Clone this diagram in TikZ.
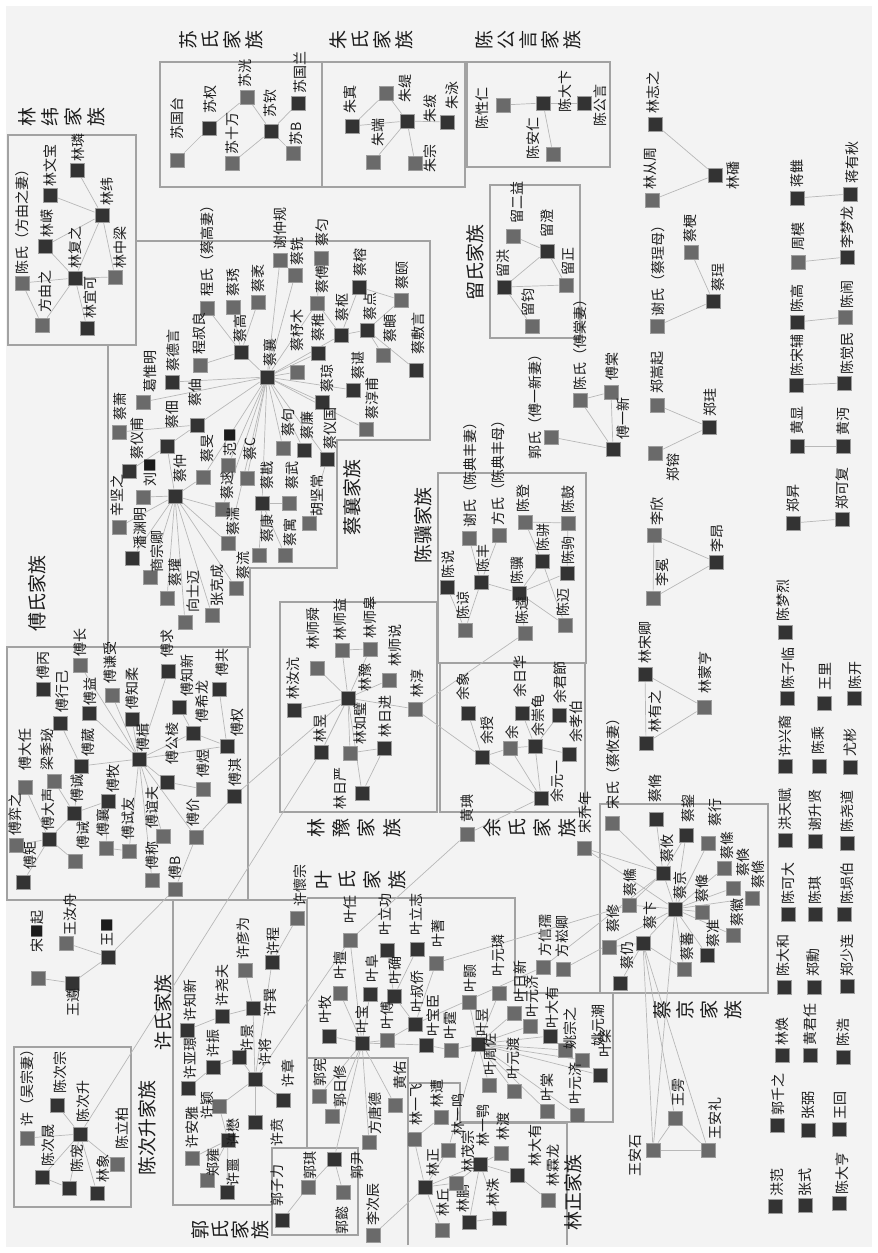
\documentclass[tikz,border=0pt]{standalone}
\usepackage{fontspec}
\setmainfont{Noto Sans CJK SC}
\definecolor{bgc}{HTML}{F3F3F3}
\definecolor{grpc}{HTML}{A2A2A2}
\definecolor{edc}{HTML}{B8B8B8}
\definecolor{dkc}{HTML}{333333}
\definecolor{gyc}{HTML}{6A6A6A}
\definecolor{sqb}{HTML}{9C9C9C}
\definecolor{txt}{HTML}{1C1C1C}
\pgfdeclarelayer{back}\pgfdeclarelayer{edges}
\pgfsetlayers{back,edges,main}
\tikzset{
 sqd/.style={draw=sqb,fill=dkc,line width=0.8pt,minimum size=14pt,inner sep=0pt},
 sqg/.style={draw=sqb,fill=gyc,line width=0.8pt,minimum size=14pt,inner sep=0pt},
 lb/.style={rotate=90,anchor=west,inner sep=0pt,font=\fontsize{14}{14}\selectfont,text=txt},
 bigl/.style={rotate=90,inner sep=0pt,font=\fontsize{19}{19}\selectfont,text=txt},
 ed/.style={draw=edc,line width=0.7pt},
 grp/.style={draw=grpc,line width=2.4pt}
}
\newcommand\Nd[7]{\node[sq#4] (#1) at (#2,#3) {};\node[lb] at (#6,#7) {#5};}
\newcommand\Sp[4]{\foreach \c [count=\i from 0] in {#4} \node[bigl] at (#1+\i*#3,#2) {\c};}
\begin{document}
\begin{tikzpicture}[x=1pt,y=-1pt]
\useasboundingbox (0,0) rectangle (878,1253);
\begin{pgfonlayer}{back}
\fill[white] (0,0) rectangle (878,1253);
\fill[bgc] (6,6) rectangle (872,1247);
\draw[grp] (8,135) rectangle (136,345);
\draw[grp] (160,62) rectangle (322,187);
\draw[grp] (322,62) rectangle (465,187);
\draw[grp] (467,62) rectangle (610,167);
\draw[grp] (490,185) rectangle (580,338);
\draw[grp] (108,345) -- (108,647) -- (250,647) -- (250,568) -- (337,568) -- (337,440) -- (430,440) -- (430,241) -- (136,241);
\draw[grp] (7,647) rectangle (248,900);
\draw[grp] (438,473) rectangle (586,663);
\draw[grp] (440,663) rectangle (585,812);
\draw[grp] (280,602) rectangle (437,812);
\draw[grp] (600,804) rectangle (768,993);
\draw[grp] (14,1047) rectangle (131,1207);
\draw[grp] (173,900) -- (307,900) -- (307,1148);
\draw[grp] (173,900) -- (173,1205) -- (272,1205);
\draw[grp] (307,898) -- (515,898) -- (515,993) -- (613,993) -- (613,1122) -- (460,1122);
\draw[grp] (307,1058) -- (408,1058) -- (408,1083);
\draw[grp] (408,1245) -- (408,1083) -- (460,1083) -- (460,1123) -- (567,1123) -- (567,1245);
\draw[grp] (272,1148) rectangle (358,1235);
\end{pgfonlayer}
% group labels
\Sp{27}{117}{23}{林,纬,家,族}
\Sp{188}{40}{22}{苏,氏,家,族}
\Sp{338}{40}{22}{朱,氏,家,族}
\Sp{484}{40}{22}{陈,公,言,家,族}
\Sp{316}{828}{25.3}{林,豫,家,族}
\Sp{492}{828}{25}{余,氏,家,族}
\Sp{323}{880}{24.6}{叶,氏,家,族}
\Sp{662}{1010}{23.7}{蔡,京,家,族}
\Sp{200}{1230}{20}{郭,氏,家,族}
\node[bigl] at (37,593) {傅氏家族};
\node[bigl] at (352,497) {蔡襄家族};
\node[bigl] at (423,525) {陈骥家族};
\node[bigl] at (475,262) {留氏家族};
\node[bigl] at (163,1012) {许氏家族};
\node[bigl] at (147,1128) {陈次升家族};
\node[bigl] at (573,1192) {林正家族};
% 林纬
\Nd{a1}{22}{283}{g}{陈氏（方由之妻）}{22}{275}
\Nd{a2}{42}{325}{g}{方由之}{45}{313}
\Nd{a3}{87}{328}{d}{林宜可}{90}{319}
\Nd{a4}{75}{278}{d}{林复之}{75}{269}
\Nd{a5}{45}{246}{d}{林嵘}{47}{238}
\Nd{a6}{50}{195}{d}{林文宝}{50}{187}
\Nd{a7}{77}{170}{d}{林璘}{78}{162}
\Nd{a8}{102}{215}{d}{林纬}{107}{206}
\Nd{a9}{115}{277}{g}{林中梁}{120}{269}
% 苏
\Nd{b1}{177}{160}{g}{苏国台}{177}{140}
\Nd{b2}{209}{128}{d}{苏权}{210}{114}
\Nd{b3}{232}{163}{g}{苏十万}{232}{155}
\Nd{b4}{247}{97}{g}{苏洸}{245}{88}
\Nd{b5}{271}{131}{d}{苏钦}{270}{118}
\Nd{b6}{293}{153}{g}{苏B}{296}{146}
\Nd{b7}{298}{103}{d}{苏国兰}{300}{94}
% 朱
\Nd{c1}{352}{126}{d}{朱寘}{350}{114}
\Nd{c2}{386}{93}{g}{朱缇}{405}{103}
\Nd{c3}{407}{121}{d}{朱绂}{430}{123}
\Nd{c4}{447}{122}{d}{朱泳}{452}{110}
\Nd{c5}{373}{162}{g}{朱端}{378}{147}
\Nd{c6}{415}{163}{g}{朱宗}{430}{173}
% 陈公言
\Nd{e1}{503}{105}{g}{陈性仁}{482}{130}
\Nd{e2}{543}{103}{d}{陈大卞}{565}{113}
\Nd{e3}{553}{154}{g}{陈安仁}{533}{160}
\Nd{e4}{584}{103}{d}{陈公言}{600}{127}
% right side
\Nd{f1}{655}{124}{d}{林志之}{653}{114}
\Nd{f2}{652}{200}{g}{林从周}{650}{190}
\Nd{f3}{715}{175}{d}{林磻}{733}{190}
\Nd{f4}{657}{326}{g}{谢氏（蔡珵母）}{658}{317}
\Nd{f5}{691}{252}{g}{蔡梗}{690}{243}
\Nd{f6}{713}{301}{d}{蔡珵}{718}{292}
\Nd{f7}{797}{198}{d}{蒋雔}{797}{188}
\Nd{f8}{850}{194}{d}{蒋有秋}{852}{184}
\Nd{f9}{798}{262}{g}{周模}{798}{251}
\Nd{f10}{847}{257}{d}{李梦龙}{847}{249}
\Nd{f11}{797}{322}{d}{陈高}{797}{313}
\Nd{f12}{845}{317}{g}{陈闹}{847}{309}
\Nd{f13}{796}{385}{d}{陈宋辅}{797}{377}
\Nd{f14}{844}{383}{d}{陈觉民}{847}{375}
\Nd{f15}{797}{446}{d}{黄显}{797}{435}
\Nd{f16}{843}{446}{d}{黄沔}{843}{436}
\Nd{f17}{793}{523}{d}{郑昇}{793}{513}
\Nd{f18}{842}{519}{d}{郑可复}{842}{510}
\Nd{f19}{785}{632}{d}{陈梦烈}{783}{622}
\Nd{f20}{611}{392}{g}{傅棠}{612}{381}
\Nd{f21}{613}{449}{d}{傅一新}{623}{440}
\Nd{f22}{580}{400}{g}{陈氏（傅棠妻）}{580}{391}
\Nd{f23}{551}{437}{g}{郭氏（傅一新妻）}{535}{460}
\Nd{f24}{657}{405}{g}{郑嵩起}{657}{394}
\Nd{f25}{709}{427}{d}{郑珪}{710}{417}
\Nd{f26}{655}{453}{g}{郑镕}{673}{482}
\Nd{f27}{654}{535}{g}{李欣}{657}{526}
\Nd{f28}{716}{562}{d}{李昂}{717}{553}
\Nd{f29}{653}{598}{g}{李冕}{662}{587}
\Nd{f30}{645}{674}{d}{林宋卿}{645}{664}
\Nd{f31}{646}{743}{d}{林有之}{655}{733}
\Nd{f32}{704}{707}{g}{林蒙亨}{705}{694}
\Nd{x1}{787}{698}{d}{陈子临}{788}{690}
\Nd{x2}{824}{703}{d}{王里}{825}{691}
\Nd{x3}{854}{698}{d}{陈开}{855}{690}
\Nd{x4}{785}{766}{d}{许兴裔}{785}{758}
\Nd{x5}{819}{766}{d}{陈乘}{818}{755}
\Nd{x6}{850}{767}{d}{尤彬}{850}{757}
\Nd{x7}{785}{840}{d}{洪天赋}{785}{831}
\Nd{x8}{815}{841}{d}{谢升贤}{815}{832}
\Nd{x9}{847}{843}{d}{陈尧道}{847}{833}
\Nd{x10}{788}{914}{d}{陈可大}{788}{905}
\Nd{x11}{815}{914}{d}{陈琪}{815}{905}
\Nd{x12}{844}{914}{d}{陈埙伯}{847}{905}
\Nd{x13}{784}{987}{d}{陈大和}{783}{977}
\Nd{x14}{814}{987}{d}{郑勳}{813}{977}
\Nd{x15}{847}{986}{d}{郑少连}{847}{977}
\Nd{x16}{782}{1055}{d}{林焕}{782}{1046}
\Nd{x17}{810}{1055}{d}{黄君任}{810}{1046}
\Nd{x18}{843}{1057}{d}{陈浩}{843}{1047}
\Nd{x19}{777}{1125}{d}{郭千之}{778}{1116}
\Nd{x20}{808}{1130}{d}{张弼}{808}{1120}
\Nd{x21}{839}{1129}{d}{王回}{840}{1120}
\Nd{x22}{775}{1206}{d}{洪范}{777}{1197}
\Nd{x23}{805}{1205}{d}{张式}{805}{1197}
\Nd{x24}{839}{1203}{d}{陈大亨}{842}{1195}
% 留
\Nd{g1}{513}{236}{g}{留二益}{517}{224}
\Nd{g2}{547}{251}{d}{留澄}{547}{238}
\Nd{g3}{504}{287}{d}{留洪}{503}{278}
\Nd{g4}{566}{285}{g}{留正}{568}{276}
\Nd{g5}{532}{326}{g}{留钧}{528}{317}
% 陈骥
\Nd{h1}{447}{587}{d}{陈说}{448}{579}
\Nd{h2}{481}{582}{d}{陈丰}{483}{573}
\Nd{h3}{465}{630}{g}{陈谅}{463}{620}
\Nd{h4}{519}{593}{d}{陈骥}{517}{585}
\Nd{h5}{525}{522}{g}{陈登}{523}{513}
\Nd{h6}{542}{561}{d}{陈骈}{543}{552}
\Nd{h7}{568}{523}{g}{陈鼓}{568}{514}
\Nd{h8}{567}{573}{d}{陈驹}{568}{565}
\Nd{h9}{565}{625}{g}{陈迈}{563}{617}
\Nd{h10}{525}{633}{g}{陈逵}{522}{625}
\Nd{h11}{469}{538}{g}{谢氏（陈典丰妻）}{470}{528}
\Nd{h12}{499}{535}{g}{方氏（陈典丰母）}{498}{526}
% 林豫
\Nd{i1}{294}{710}{d}{林汝沆}{293}{700}
\Nd{i2}{317}{668}{g}{林师舜}{313}{650}
\Nd{i3}{342}{650}{g}{林师益}{340}{641}
\Nd{i4}{370}{649}{g}{林师皋}{370}{639}
\Nd{i5}{389}{680}{g}{林师说}{395}{667}
\Nd{i6}{348}{698}{d}{林豫}{365}{692}
\Nd{i7}{415}{709}{g}{林淳}{417}{698}
\Nd{i8}{350}{753}{g}{林如璧}{360}{745}
\Nd{i9}{384}{748}{d}{林日进}{385}{738}
\Nd{i10}{321}{752}{d}{林昱}{320}{743}
\Nd{i11}{362}{793}{d}{林日严}{340}{810}
% 余
\Nd{j1}{468}{713}{d}{余象}{463}{701}
\Nd{j2}{482}{757}{d}{余授}{487}{745}
\Nd{j3}{522}{713}{d}{余日华}{520}{698}
\Nd{j4}{510}{748}{g}{余}{512}{740}
\Nd{j5}{535}{746}{d}{余崇龟}{538}{737}
\Nd{j6}{559}{715}{d}{余君節}{560}{704}
\Nd{j7}{569}{754}{d}{余孝伯}{576}{743}
\Nd{j8}{541}{798}{d}{余元一}{557}{803}
\Nd{j9}{467}{834}{g}{黄琠}{467}{823}
\Nd{j10}{584}{848}{g}{宋乔年}{585}{834}
% 傅
\Nd{k1}{43}{689}{d}{傅丙}{43}{680}
\Nd{k2}{80}{665}{g}{傅长}{80}{657}
\Nd{k3}{60}{723}{d}{傅行己}{62}{713}
\Nd{k4}{112}{695}{g}{傅谦受}{110}{684}
\Nd{k5}{89}{713}{d}{傅益}{90}{706}
\Nd{k6}{132}{719}{d}{傅知柔}{132}{710}
\Nd{k7}{168}{671}{d}{傅求}{167}{658}
\Nd{k8}{179}{707}{d}{傅知新}{187}{697}
\Nd{k9}{219}{689}{d}{傅共}{222}{677}
\Nd{k10}{193}{733}{d}{傅希龙}{202}{723}
\Nd{k11}{227}{746}{d}{傅权}{237}{737}
\Nd{k12}{139}{759}{d}{傅楫}{143}{752}
\Nd{k13}{167}{782}{d}{傅公棱}{172}{765}
\Nd{k14}{203}{789}{g}{傅煜}{203}{778}
\Nd{k15}{234}{796}{d}{傅淇}{235}{787}
\Nd{k16}{81}{766}{d}{傅葳}{88}{757}
\Nd{k17}{25}{787}{g}{傅大任}{25}{771}
\Nd{k18}{54}{781}{g}{梁季珌}{47}{771}
\Nd{k19}{74}{813}{d}{傅诚}{77}{803}
\Nd{k20}{108}{801}{d}{傅牧}{113}{793}
\Nd{k21}{16}{845}{g}{傅弈之}{15}{836}
\Nd{k22}{49}{839}{d}{傅大声}{48}{831}
\Nd{k23}{75}{861}{g}{傅诫}{83}{850}
\Nd{k24}{23}{882}{d}{傅矩}{30}{870}
\Nd{k25}{106}{848}{g}{傅襄}{103}{837}
\Nd{k26}{129}{851}{g}{傅试友}{128}{840}
\Nd{k27}{163}{836}{g}{傅谊夫}{152}{829}
\Nd{k28}{196}{837}{g}{傅价}{193}{827}
\Nd{k29}{152}{880}{g}{傅称}{152}{870}
\Nd{k30}{175}{889}{g}{傅B}{175}{880}
% 王 etc
\Nd{l1}{38}{978}{g}{宋■起}{37}{953}
\Nd{l2}{66}{943}{g}{王汝舟}{70}{936}
\Nd{l3}{108}{957}{d}{王■}{107}{947}
\Nd{l4}{72}{983}{d}{王遵}{73}{1017}
% 陈次升
\Nd{m1}{27}{1138}{g}{许（吴宗妻）}{27}{1127}
\Nd{m2}{57}{1105}{d}{陈次宗}{60}{1094}
\Nd{m3}{80}{1134}{d}{陈次升}{83}{1123}
\Nd{m4}{42}{1177}{d}{陈次晟}{48}{1167}
\Nd{m5}{69}{1188}{d}{陈宠}{77}{1173}
\Nd{m6}{97}{1193}{d}{林象}{103}{1183}
\Nd{m7}{117}{1164}{g}{陈立柏}{122}{1150}
% 许
\Nd{n1}{188}{1088}{d}{许亚璟}{190}{1080}
\Nd{n2}{187}{1030}{d}{许知新}{190}{1022}
\Nd{n3}{213}{1067}{d}{许振}{213}{1058}
\Nd{n4}{222}{1016}{d}{许尧夫}{222}{1007}
\Nd{n5}{239}{1057}{d}{许景}{247}{1053}
\Nd{n6}{219}{1106}{g}{许颖}{207}{1120}
\Nd{n7}{192}{1158}{g}{许安雅}{192}{1149}
\Nd{n8}{207}{1180}{g}{郑雍}{213}{1177}
\Nd{n9}{228}{1140}{d}{许懋}{233}{1147}
\Nd{n10}{227}{1192}{d}{许噩}{233}{1187}
\Nd{n11}{255}{1122}{d}{许贲}{277}{1147}
\Nd{n12}{255}{1079}{d}{许将}{265}{1067}
\Nd{n13}{283}{1100}{d}{许章}{288}{1088}
\Nd{n14}{253}{1008}{d}{许巽}{270}{1017}
\Nd{n15}{245}{970}{g}{许彦为}{243}{960}
\Nd{n16}{272}{962}{d}{许程}{273}{956}
\Nd{n17}{297}{918}{g}{许懷宗}{300}{907}
% 郭
\Nd{o1}{282}{1220}{d}{郭子力}{277}{1207}
\Nd{o2}{308}{1187}{g}{郭琪}{310}{1180}
\Nd{o3}{343}{1192}{g}{郭懿}{342}{1235}
\Nd{o4}{334}{1159}{d}{郭尹}{357}{1180}
\Nd{o5}{373}{1235}{g}{李次辰}{373}{1226}
\Nd{o6}{319}{1096}{g}{郭宪}{320}{1087}
\Nd{o7}{332}{1116}{g}{郭日修}{340}{1108}
\Nd{o8}{369}{1142}{g}{方唐德}{375}{1135}
\Nd{o9}{395}{1105}{g}{黄佑}{400}{1090}
% 叶
\Nd{p1}{350}{940}{g}{叶任}{350}{924}
\Nd{p2}{387}{950}{d}{叶立功}{385}{936}
\Nd{p3}{417}{949}{d}{叶立志}{416}{936}
\Nd{p4}{436}{963}{g}{叶蓍}{438}{948}
\Nd{p5}{340}{993}{g}{叶擅}{340}{980}
\Nd{p6}{370}{994}{d}{叶阜}{372}{983}
\Nd{p7}{394}{996}{d}{叶确}{395}{985}
\Nd{p8}{415}{1024}{d}{叶叔侨}{417}{1013}
\Nd{p9}{362}{1043}{d}{叶宝}{362}{1034}
\Nd{p10}{329}{1036}{d}{叶牧}{325}{1024}
\Nd{p11}{387}{1040}{g}{叶傅}{387}{1030}
\Nd{p12}{426}{1045}{d}{叶宝臣}{433}{1037}
\Nd{p13}{451}{1050}{g}{叶霆}{450}{1040}
\Nd{p14}{469}{1002}{g}{叶颢}{470}{993}
\Nd{p15}{478}{1044}{d}{叶昱}{482}{1037}
\Nd{p16}{499}{993}{g}{叶元璘}{498}{977}
\Nd{p17}{514}{1013}{g}{叶日新}{520}{1003}
\Nd{p18}{530}{1026}{g}{叶元济}{532}{1018}
\Nd{p19}{550}{1036}{d}{叶大有}{552}{1029}
\Nd{p20}{565}{1050}{g}{姚宗之}{570}{1050}
\Nd{p21}{582}{1060}{g}{姚元潮}{598}{1047}
\Nd{p22}{600}{1075}{d}{叶棨}{605}{1058}
\Nd{p23}{577}{1115}{g}{叶元济}{575}{1105}
\Nd{p24}{489}{1085}{g}{叶周佐}{490}{1076}
\Nd{p25}{514}{1091}{g}{叶元渡}{513}{1080}
\Nd{p26}{547}{1111}{g}{叶棠}{547}{1102}
\Nd{p27}{543}{967}{g}{方信孺}{545}{957}
\Nd{p28}{563}{969}{g}{方崧卿}{562}{958}
% 林正
\Nd{q1}{414}{1139}{g}{林一飞}{416}{1126}
\Nd{q2}{441}{1117}{g}{林遭}{437}{1108}
\Nd{q3}{448}{1150}{g}{林一鸣}{458}{1136}
\Nd{q4}{425}{1187}{d}{林正}{433}{1177}
\Nd{q5}{480}{1164}{d}{林一鹗}{483}{1147}
\Nd{q6}{501}{1153}{g}{林渡}{503}{1141}
\Nd{q7}{517}{1175}{d}{林大有}{535}{1167}
\Nd{q8}{548}{1200}{g}{林霖龙}{553}{1187}
\Nd{q9}{442}{1230}{g}{林丘}{443}{1217}
\Nd{q10}{469}{1222}{d}{林鹏}{463}{1213}
\Nd{q11}{499}{1218}{d}{林洙}{493}{1207}
\Nd{q12}{456}{1183}{g}{林茂宗}{468}{1173}
% 蔡京
\Nd{r1}{612}{823}{g}{宋氏（蔡攸妻）}{613}{810}
\Nd{r2}{656}{819}{d}{蔡脩}{655}{803}
\Nd{r3}{686}{835}{d}{蔡鋆}{688}{823}
\Nd{r4}{708}{843}{g}{蔡行}{715}{827}
\Nd{r5}{663}{873}{d}{蔡攸}{667}{863}
\Nd{r6}{724}{868}{g}{蔡絛}{727}{860}
\Nd{r7}{733}{888}{g}{蔡倏}{743}{877}
\Nd{r8}{752}{898}{g}{蔡條}{758}{889}
\Nd{r9}{675}{909}{d}{蔡京}{680}{900}
\Nd{r10}{702}{912}{g}{蔡鞗}{702}{903}
\Nd{r11}{629}{905}{g}{蔡鯈}{630}{897}
\Nd{r12}{609}{947}{g}{蔡修}{613}{933}
\Nd{r13}{643}{943}{d}{蔡卞}{650}{930}
\Nd{r14}{620}{983}{d}{蔡仍}{627}{970}
\Nd{r15}{684}{969}{g}{蔡蕃}{687}{961}
\Nd{r16}{707}{955}{d}{蔡准}{713}{948}
\Nd{r17}{733}{935}{g}{蔡徽}{737}{927}
\Nd{w1}{675}{1118}{g}{王雱}{678}{1107}
\Nd{w2}{653}{1150}{g}{王安石}{635}{1177}
\Nd{w3}{708}{1150}{g}{王安礼}{715}{1140}
% 蔡襄
\Nd{s1}{207}{308}{g}{程氏（蔡高妻）}{207}{297}
\Nd{s2}{233}{307}{g}{蔡琇}{233}{297}
\Nd{s3}{258}{302}{g}{蔡袤}{258}{293}
\Nd{s4}{280}{260}{g}{谢仲规}{280}{250}
\Nd{s5}{295}{275}{g}{蔡铣}{297}{266}
\Nd{s6}{321}{258}{g}{蔡匀}{322}{247}
\Nd{s7}{317}{303}{g}{蔡傅}{322}{294}
\Nd{s8}{359}{287}{d}{蔡榕}{360}{277}
\Nd{s9}{401}{300}{g}{蔡颐}{402}{290}
\Nd{s10}{341}{335}{d}{蔡枢}{342}{322}
\Nd{s11}{367}{330}{d}{蔡点}{370}{321}
\Nd{s12}{383}{355}{g}{蔡頔}{390}{343}
\Nd{s13}{416}{370}{d}{蔡敷言}{418}{355}
\Nd{s14}{318}{353}{d}{蔡稚}{318}{342}
\Nd{s15}{297}{372}{g}{蔡杼木}{297}{352}
\Nd{s16}{322}{402}{d}{蔡琼}{327}{393}
\Nd{s17}{353}{390}{d}{蔡谌}{358}{380}
\Nd{s18}{366}{429}{g}{蔡淳甫}{372}{420}
\Nd{s19}{304}{450}{d}{蔡廉}{307}{440}
\Nd{s20}{327}{459}{d}{蔡仪国}{330}{450}
\Nd{s21}{309}{523}{g}{胡坚常}{317}{517}
\Nd{s22}{241}{352}{d}{蔡高}{240}{343}
\Nd{s23}{267}{377}{d}{蔡襄}{270}{367}
\Nd{s24}{200}{365}{g}{程叔良}{199}{355}
\Nd{s25}{172}{382}{d}{蔡德言}{173}{372}
\Nd{s26}{143}{402}{g}{葛惟明}{150}{393}
\Nd{s27}{119}{432}{g}{蔡萧}{120}{421}
\Nd{s28}{197}{425}{d}{蔡伷}{195}{407}
\Nd{s29}{167}{446}{d}{蔡佃}{172}{429}
\Nd{s30}{129}{471}{d}{蔡仪甫}{137}{460}
\Nd{s31}{143}{497}{g}{刘■}{150}{487}
\Nd{s32}{119}{527}{g}{辛坚之}{117}{517}
\Nd{s33}{132}{558}{d}{潘渊明}{140}{550}
\Nd{s34}{175}{496}{d}{蔡仲}{180}{483}
\Nd{s35}{203}{477}{g}{蔡旻}{207}{463}
\Nd{s36}{228}{465}{g}{范■}{230}{457}
\Nd{s37}{247}{478}{g}{蔡C}{250}{461}
\Nd{s38}{222}{509}{g}{蔡逑}{227}{500}
\Nd{s39}{262}{503}{d}{蔡戡}{267}{490}
\Nd{s40}{289}{503}{g}{蔡武}{292}{490}
\Nd{s41}{228}{543}{g}{蔡湍}{233}{536}
\Nd{s42}{259}{555}{g}{蔡康}{267}{543}
\Nd{s43}{285}{555}{g}{蔡寓}{290}{547}
\Nd{s44}{236}{588}{g}{蔡流}{243}{580}
\Nd{s45}{212}{615}{g}{张克成}{217}{607}
\Nd{s46}{185}{622}{g}{向士迈}{193}{613}
\Nd{s47}{167}{598}{g}{蔡瓘}{175}{587}
\Nd{s48}{150}{577}{g}{商宗卿}{157}{573}
\Nd{s49}{283}{448}{g}{蔡句}{288}{437}
\begin{pgfonlayer}{edges}
\foreach \a/\b in {a1/a2,a1/a4,a2/a4,a4/a3,a4/a5,a4/a8,a4/a9,a5/a8,a6/a8,a7/a8,a9/a8,
 b1/b2,b2/b4,b4/b5,b3/b5,b5/b7,b5/b6,
 c1/c2,c2/c3,c1/c3,c3/c4,c3/c5,c3/c6,
 e1/e2,e2/e4,e2/e3,
 f1/f3,f2/f3,f4/f6,f5/f6,f7/f8,f9/f10,f11/f12,f13/f14,f15/f16,f17/f18,
 f22/f20,f22/f21,f20/f21,f23/f21,f24/f25,f26/f25,f27/f28,f29/f28,f27/f29,f30/f31,f30/f32,f31/f32,
 g1/g2,g2/g3,g2/g4,g3/g4,g3/g5,
 h1/h3,h2/h3,h2/h11,h2/h12,h2/h4,h4/h6,h6/h5,h5/h7,h6/h9,h4/h8,h4/h10,h4/h9,h8/h7,
 i1/i6,i2/i6,i3/i6,i3/i4,i4/i6,i5/i6,i6/i7,i6/i10,i6/i8,i6/i11,i8/i9,i11/i9,
 k15/i6,m3/i10,i7/h10,i7/j2,
 j1/j2,j2/j4,j4/j5,j5/j3,j5/j6,j5/j7,j2/j8,j4/j8,j5/j8,j8/j9,j9/p1,
 k12/k2,k12/k4,k12/k5,k12/k6,k12/k7,k12/k10,k12/k11,k12/k13,k12/k16,k12/k26,k12/k27,k12/k28,k12/k29,
 k3/k16,k16/k19,k19/k20,k19/k18,k19/k22,k17/k22,k22/k23,k21/k22,k24/k22,k20/k25,k25/k26,
 k8/k10,k9/k11,k10/k11,k13/k14,k15/k28,k28/k30,k30/l3,
 l1/l4,l4/l3,l2/l3,
 m3/m1,m3/m2,m3/m4,m3/m5,m3/m6,m3/m7,m4/m5,
 n12/n5,n12/n14,n12/n13,n12/n11,n12/n6,n12/n16,n3/n5,n3/n1,n2/n4,n4/n14,n15/n14,n6/n9,n9/n8,n9/n10,n7/n9,n17/n16,n12/p1,
 o4/o2,o4/o3,o4/p9,o1/o2,o5/q4,o6/p9,o7/p9,o8/p9,o9/p9,
 p9/p1,p9/p5,p9/p6,p9/p10,p9/p11,p9/p12,p11/p8,p7/p2,p7/p3,p7/p8,p8/p4,p12/p13,p13/p15,
 p15/p14,p15/p16,p15/p17,p15/p18,p15/p19,p15/p20,p15/p21,p15/p22,p15/p23,p15/p24,p15/p25,p15/p26,p15/q3,
 p8/p27,p28/r9,p27/r5,p4/r11,
 q4/q1,q4/q3,q4/q12,q4/q9,q4/q5,q5/q6,q5/q7,q5/q10,q5/q11,q5/q12,q7/q8,q1/q2,q10/q11,
 r9/r5,r9/r4,r9/r6,r9/r7,r9/r8,r9/r10,r9/r11,r9/r13,r9/r15,r9/r16,r9/r17,r9/r3,
 r5/r2,r5/r3,r5/r1,r5/r11,j10/r5,j10/r9,r13/r14,r13/r12,r13/r15,r13/w1,r13/w2,r13/w3,r9/w2,
 w2/w1,w2/w3,w1/w3,
 s22/s1,s22/s2,s22/s3,s22/s24,s22/s23,
 s23/s4,s23/s5,s23/s7,s23/s14,s23/s10,s23/s15,s23/s16,s23/s17,s23/s18,s23/s19,s23/s20,s23/s49,
 s23/s39,s23/s37,s23/s36,s23/s35,s23/s38,s23/s28,s23/s25,s23/s26,s23/s41,
 s10/s8,s10/s11,s10/s7,s8/s9,s11/s9,s12/s11,s13/s11,s6/s7,
 s39/s40,s39/s42,s39/s43,s20/s21,
 s34/s35,s34/s31,s34/s32,s34/s33,s34/s48,s34/s47,s34/s46,s34/s45,s34/s44,s34/s41,s34/s38,s34/s29,
 s29/s28,s29/s30,s28/s27}
 \draw[ed] (\a) -- (\b);
\end{pgfonlayer}
\end{tikzpicture}
\end{document}
